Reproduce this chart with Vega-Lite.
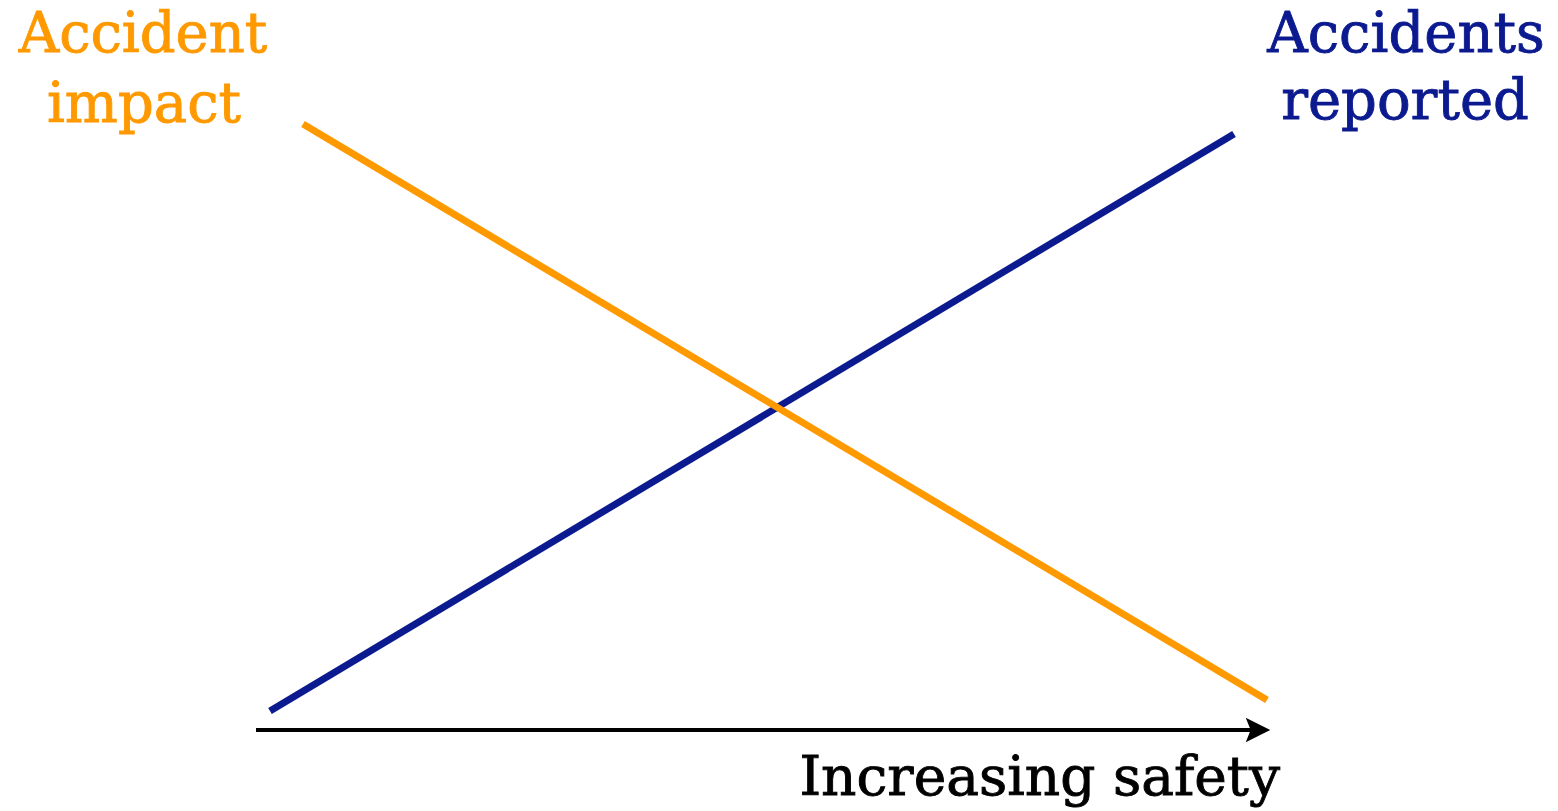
{
  "$schema": "https://vega.github.io/schema/vega-lite/v6.json",
  "width": 1558,
  "height": 811,
  "autosize": {"type": "none"},
  "padding": 0,
  "background": "white",
  "config": {"view": {"stroke": null}},
  "datasets": {
    "lines": [
      {"series": "reported", "x": 270, "y": 100},
      {"series": "reported", "x": 1234, "y": 677},
      {"series": "impact", "x": 303, "y": 687},
      {"series": "impact", "x": 1267, "y": 111}
    ],
    "arrow": [
      {"series": "axis", "x": 256, "x2": 1252, "y": 81, "head": 1258}
    ],
    "labels": [
      {"series": "impact", "x": 143, "y": 759, "label": "Accident"},
      {"series": "impact", "x": 144, "y": 689, "label": "impact"},
      {"series": "reported", "x": 1406, "y": 759, "label": "Accidents"},
      {"series": "reported", "x": 1405, "y": 692, "label": "reported"}
    ],
    "axislabel": [
      {"series": "axis", "x": 1280, "y": 16, "label": "Increasing safety"}
    ]
  },
  "layer": [
    {
      "data": {"name": "lines"},
      "transform": [{"filter": "datum.series === 'reported'"}],
      "mark": {"type": "line", "strokeWidth": 7, "strokeCap": "butt"},
      "encoding": {
        "x": {"field": "x", "type": "quantitative", "scale": {"domain": [0, 1558], "nice": false, "zero": false}, "axis": null},
        "y": {"field": "y", "type": "quantitative", "scale": {"domain": [0, 811], "nice": false, "zero": false}, "axis": null},
        "color": {"field": "series", "type": "nominal", "scale": {"domain": ["impact", "reported", "axis"], "range": ["#ff9900", "#0c1a8f", "#000000"]}, "legend": null}
      }
    },
    {
      "data": {"name": "lines"},
      "transform": [{"filter": "datum.series === 'impact'"}],
      "mark": {"type": "line", "strokeWidth": 7, "strokeCap": "butt"},
      "encoding": {
        "x": {"field": "x", "type": "quantitative"},
        "y": {"field": "y", "type": "quantitative"},
        "color": {"field": "series", "type": "nominal", "legend": null}
      }
    },
    {
      "data": {"name": "arrow"},
      "mark": {"type": "rule", "strokeWidth": 4, "color": "#000000"},
      "encoding": {
        "x": {"field": "x", "type": "quantitative"},
        "x2": {"field": "x2"},
        "y": {"field": "y", "type": "quantitative"}
      }
    },
    {
      "data": {"name": "arrow"},
      "mark": {"type": "point", "shape": "M-1,-1L1,0L-1,1L-0.6,0Z", "filled": true, "size": 600, "color": "#000000", "opacity": 1, "strokeWidth": 0},
      "encoding": {
        "x": {"field": "head", "type": "quantitative"},
        "y": {"field": "y", "type": "quantitative"}
      }
    },
    {
      "data": {"name": "labels"},
      "mark": {"type": "text", "font": "DejaVu Serif", "fontSize": 56, "align": "center", "baseline": "alphabetic", "strokeWidth": 0.9},
      "encoding": {
        "x": {"field": "x", "type": "quantitative"},
        "y": {"field": "y", "type": "quantitative"},
        "text": {"field": "label"},
        "color": {"field": "series", "type": "nominal", "legend": null},
        "stroke": {"field": "series", "type": "nominal", "scale": {"domain": ["impact", "reported", "axis"], "range": ["#ff9900", "#0c1a8f", "#000000"]}, "legend": null}
      }
    },
    {
      "data": {"name": "axislabel"},
      "mark": {"type": "text", "font": "DejaVu Serif", "fontSize": 55, "align": "right", "baseline": "alphabetic", "strokeWidth": 0.9},
      "encoding": {
        "x": {"field": "x", "type": "quantitative"},
        "y": {"field": "y", "type": "quantitative"},
        "text": {"field": "label"},
        "color": {"field": "series", "type": "nominal", "legend": null},
        "stroke": {"field": "series", "type": "nominal", "legend": null}
      }
    }
  ]
}
